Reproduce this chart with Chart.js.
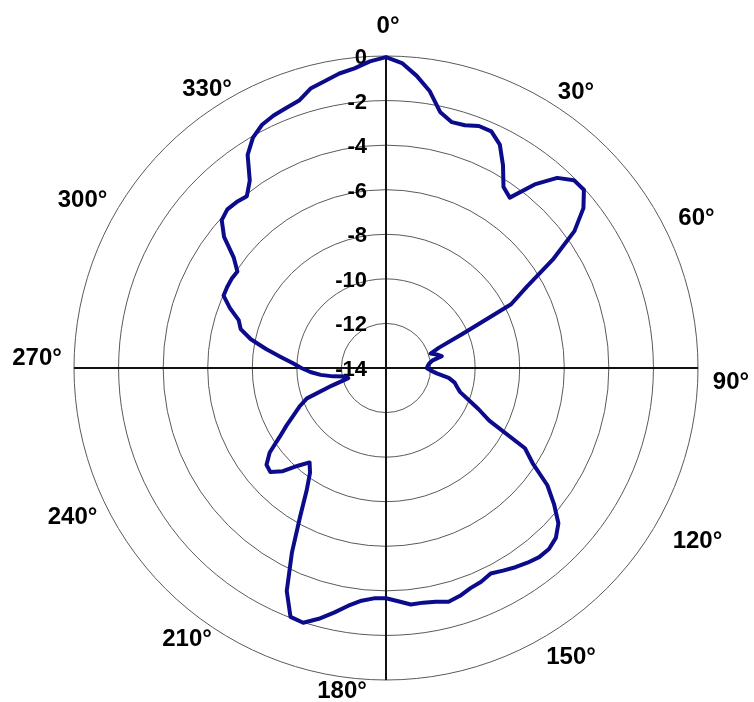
<!DOCTYPE html>
<html>
<head>
<meta charset="utf-8">
<script src="https://cdn.jsdelivr.net/npm/chart.js@4.4.1/dist/chart.umd.min.js"></script>
<style>
  html, body { margin: 0; padding: 0; background: #ffffff; }
  #wrap { width: 754px; height: 702px; }
</style>
</head>
<body>
<div id="wrap"><canvas id="c" width="754" height="702"></canvas></div>
<script>
// Angles (degrees, clockwise from top)
const angles = [
  0, 3, 6, 9, 12, 15, 18, 21, 24, 27,
  30, 33, 36, 39, 42, 45, 48, 51, 54, 57,
  60, 63, 66, 69, 72, 75, 78, 81, 84, 87,
  90, 93, 96, 99, 102, 105, 108, 111, 114, 117,
  120, 123, 126, 129, 132, 135, 138, 141, 144, 147,
  150, 153, 156, 159, 162, 165, 168, 171, 174, 177,
  180, 183, 186, 189, 192, 195, 198, 201, 204, 207,
  210, 213, 216, 219, 222, 225, 228, 231, 234, 237,
  240, 243, 246, 249, 252, 255, 258, 261, 264, 267,
  270, 273, 276, 279, 282, 285, 288, 291, 294, 297,
  300, 303, 306, 309, 312, 315, 318, 321, 324, 327,
  330, 333, 336, 339, 342, 345, 348, 351, 354, 357
];

// Pattern level (dB) at each angle
const gainDb = [
  -0.05, -0.3, -0.82, -1.43, -2.27, -2.58, -2.55, -2.37, -2.38, -2.75,
  -3.5, -4.32, -4.55, -3.4, -2.52, -2.08, -2.05, -2.6, -3.55, -5.08,
  -6.7, -7.7, -10.25, -11.45, -11.9, -11.65, -11.44, -11.9, -12.05, -12.12,
  -12.17, -12.0, -11.71, -11.15, -10.85, -10.7, -10.5, -10.05, -9.45, -8.8,
  -6.8, -6.15, -5.05, -4.3, -3.59, -3.22, -3.07, -3.08, -3.2, -3.34,
  -3.5, -3.65, -3.5, -3.42, -3.25, -3.14, -3.28, -3.34, -3.33, -3.52,
  -3.67, -3.65, -3.5, -3.2, -2.78, -2.35, -1.98, -2.04, -3.05, -4.7,
  -6.29, -7.47, -8.2, -8.55, -8.1, -7.45, -7.02, -7.1, -7.55, -8.3,
  -8.85, -9.35, -9.75, -10.2, -11.45, -12.25, -12.15, -11.6, -11.05, -10.6,
  -10.2, -9.8, -9.25, -8.55, -7.8, -7.25, -7.05, -6.5, -6.02, -6.0,
  -6.0, -6.05, -5.55, -4.65, -4.08, -3.93, -3.98, -4.08, -3.6, -2.6,
  -2.06, -1.75, -1.6, -1.5, -1.38, -1.0, -0.83, -0.62, -0.48, -0.22
];

// Radial tick labels
const radialTicks = [0, -2, -4, -6, -8, -10, -12, -14];

// Angular labels (every 30 degrees)
const angleLabelValues = [0, 30, 60, 90, 120, 150, 180, 210, 240, 270, 300, 330];
const angleLabelTexts = ['0°', '30°', '60°', '90°', '120°', '150°', '180°', '210°', '240°', '270°', '300°', '330°'];

const FONT = '"Liberation Sans", Arial, Helvetica, sans-serif';

// small per-label placement nudges (px) so the labels sit where the original put them
const LABEL_NUDGE = [
  [2, -2], [20, 19], [16, 20], [5, 14], [17, 3], [15, -5],
  [-44, -17], [-29, -23], [-19, -21], [-9, -10], [-9, 2], [-9, 16]
];

const overlayLabels = {
  id: 'overlayLabels',
  beforeDatasetsDraw(chart) {
    const s = chart.scales.r;
    const ctx = chart.ctx;
    ctx.save();
    ctx.fillStyle = '#000000';
    // radial tick labels, just left of the vertical axis
    ctx.font = 'bold 22px ' + FONT;
    ctx.textAlign = 'right';
    ctx.textBaseline = 'middle';
    radialTicks.forEach(v => {
      const d = s.getDistanceFromCenterForValue(v);
      ctx.fillText(String(v), s.xCenter - 19, s.yCenter - d + 2);
    });
    // angular labels
    ctx.font = 'bold 24px ' + FONT;
    ctx.textAlign = 'center';
    angleLabelValues.forEach((a, k) => {
      const idx = angles.indexOf(a);
      const p = s.getPointPosition(idx, s.drawingArea + 28);
      ctx.fillText(angleLabelTexts[k], p.x + LABEL_NUDGE[k][0], p.y + LABEL_NUDGE[k][1]);
    });
    ctx.restore();
  }
};

new Chart(document.getElementById('c'), {
  type: 'radar',
  data: {
    labels: angles.map(a => a + '°'),
    datasets: [{
      data: gainDb,
      borderColor: '#0b0b8c',
      borderWidth: 4,
      borderJoinStyle: 'round',
      fill: false,
      pointRadius: 0,
      pointHoverRadius: 0,
      tension: 0
    }]
  },
  options: {
    responsive: false,
    animation: false,
    devicePixelRatio: 1,
    layout: { padding: { left: 74, right: 56, top: 56, bottom: 22 } },
    plugins: { legend: { display: false }, tooltip: { enabled: false } },
    scales: {
      r: {
        min: -14,
        max: 0,
        beginAtZero: false,
        startAngle: 0,
        ticks: { display: false, stepSize: 2 },
        pointLabels: { display: false },
        grid: { circular: true, color: '#5a5a5a', lineWidth: 1 },
        angleLines: {
          display: true,
          color: '#111111',
          lineWidth: (ctx) => (angles[ctx.index] % 90 === 0 ? 2 : 0)
        }
      }
    }
  },
  plugins: [overlayLabels]
});
</script>
</body>
</html>
